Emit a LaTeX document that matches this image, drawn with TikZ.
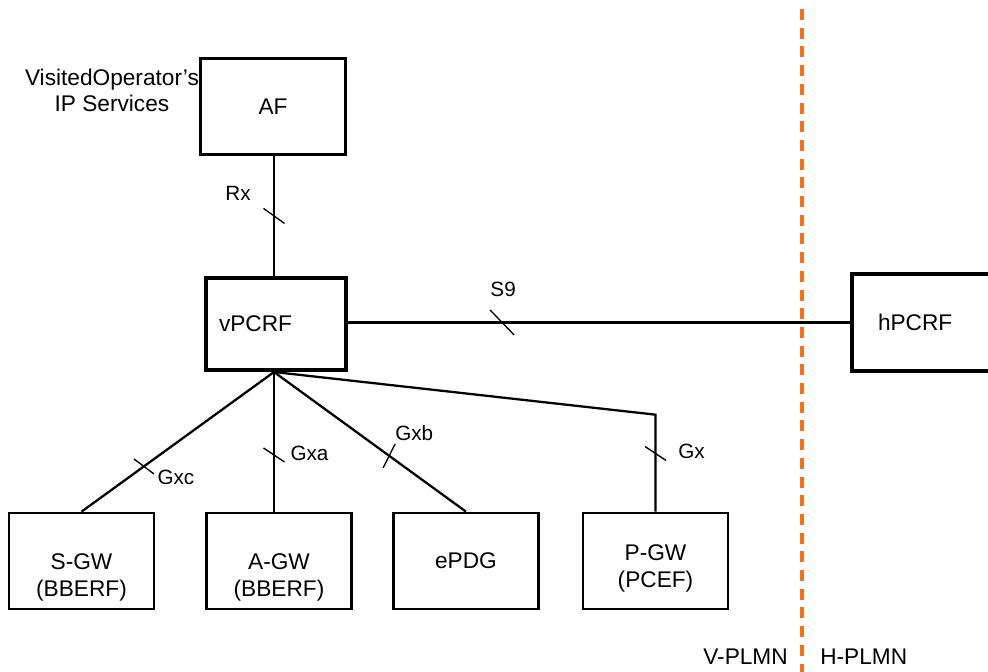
\documentclass[tikz,border=0pt]{standalone}
\usepackage{fontspec}
\setmainfont{Liberation Sans}
\usetikzlibrary{positioning}
\newdimen\px \px=0.75pt
\definecolor{plmnorange}{RGB}{250,110,20}
\tikzset{
    % boxes for the network functions
    entity/.style = {rectangle, draw, line width=2pt, minimum width=145\px, minimum height=96\px, inner sep=0pt, align=center, font=\fontsize{17}{20}\selectfont},
    pcrf/.style = {entity, line width=3pt, minimum width=0pt, align=left},
    gwtext/.style = {text height=#1, text depth=5pt},
    iface/.style = {line width=1.7pt},
    ifacetick/.style = {line width=1pt},
    ifacelabel/.style = {inner sep=0pt, font=\fontsize{15.5}{18}\selectfont},
    plmnlabel/.style = {inner sep=0pt, font=\fontsize{17}{20}\selectfont},
    boundary/.style = {draw=plmnorange, line width=3pt, dash pattern=on 11\px off 7.7\px}
}

\begin{document}
\begin{tikzpicture}[x=1\px, y=-1\px]
\path[use as bounding box, clip] (0,0) rectangle (988,671);

% Nodes
\node[entity] (af) at (273,106.5) {AF};
\node[pcrf, inner xsep=13\px, text width=114\px, minimum height=92\px] (vpcrf) at (276,324) {vPCRF};
\node[pcrf, inner xsep=26\px, text width=98\px, minimum height=97\px] (hpcrf) at (927,322.5) {hPCRF};
\node[entity, gwtext=57.5pt] (sgw) at (81.5,561) {S-GW\\(BBERF)};
\node[entity, gwtext=57.5pt] (agw) at (279,561) {A-GW\\(BBERF)};
\node[entity] (epdg) at (466,561) {ePDG};
\node[entity, gwtext=44pt] (pgw) at (655.5,561) {P-GW\\(PCEF)};
\node[below left=12\px and 0\px of af.north west, align=center, inner sep=0pt, font=\fontsize{17}{19}\selectfont] (visited) {VisitedOperator's\\IP Services};
\coordinate (hub) at ([xshift=-2\px]vpcrf.south);

% PLMN boundary
\coordinate (bndtop) at (802,9);
\coordinate (bndbot) at (802,680);
\coordinate (bndlabel) at (802,657);
\draw[boundary] (bndtop) -- (bndbot);
\node[plmnlabel, left=14\px of bndlabel] (vplmn) {V-PLMN};
\node[plmnlabel, right=18\px of bndlabel] (hplmn) {H-PLMN};

% Interfaces
\draw[iface] (hub |- af.south) -- coordinate[pos=0.5] (rxtick) (hub |- vpcrf.north);
\draw[iface] (vpcrf.east |- hpcrf.west) -- coordinate[pos=0.307] (s9tick) (hpcrf.west);
\draw[iface] (hub) -- coordinate[pos=0.676] (gxctick) (sgw.north);
\draw[iface] (hub) -- coordinate[pos=0.594] (gxatick) (hub |- agw.north);
\draw[iface] (hub) -- coordinate[pos=0.6] (gxbtick) (epdg.north);
\draw[iface] (hub) -- ([yshift=97\px]pgw.north) -- coordinate[pos=0.4] (gxtick) (pgw.north);

% Interface ticks
\draw[ifacetick] ([shift={(-10.5,-7.5)}]rxtick) -- ([shift={(10.5,7.5)}]rxtick);
\draw[ifacetick] ([shift={(-12,-12.5)}]s9tick) -- ([shift={(12,12.5)}]s9tick);
\draw[ifacetick] ([shift={(-10,-7.5)}]gxctick) -- ([shift={(10,7.5)}]gxctick);
\draw[ifacetick] ([shift={(-10.5,-7)}]gxatick) -- ([shift={(10.5,7)}]gxatick);
\draw[ifacetick] ([shift={(-6,12)}]gxbtick) -- ([shift={(6,-12)}]gxbtick);
\draw[ifacetick] ([shift={(-10.5,-7)}]gxtick) -- ([shift={(10.5,7)}]gxtick);

% Interface labels
\node[ifacelabel] (rx) at ([shift={(-36,-22.5)}]rxtick) {Rx};
\node[ifacelabel] (s9) at ([shift={(1,-33.5)}]s9tick) {S9};
\node[ifacelabel] (gxc) at ([shift={(32,11)}]gxctick) {Gxc};
\node[ifacelabel] (gxa) at ([shift={(35.5,-2)}]gxatick) {Gxa};
\node[ifacelabel] (gxb) at ([shift={(25,-23)}]gxbtick) {Gxb};
\node[ifacelabel] (gx) at ([shift={(36,-2)}]gxtick) {Gx};

\end{tikzpicture}
\end{document}
